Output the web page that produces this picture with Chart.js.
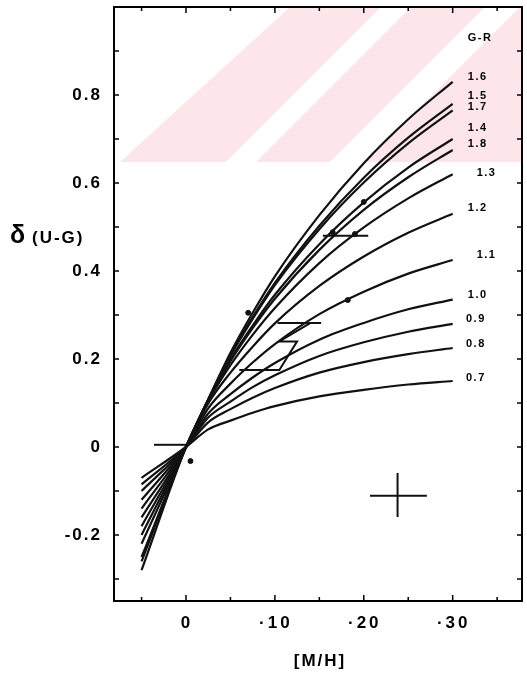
<!DOCTYPE html>
<html>
<head>
<meta charset="utf-8">
<script src="https://cdn.jsdelivr.net/npm/chart.js@4.4.0/dist/chart.umd.min.js"></script>
<style>
html, body { margin: 0; padding: 0; background: #fff; }
#wrap { width: 527px; height: 673px; }
</style>
</head>
<body>
<div id="wrap"><canvas id="grafico"></canvas></div>
<script>

// [M/H] values where each curve was read
const xs = [-0.05, 0, 0.025, 0.05, 0.075, 0.10, 0.15, 0.20, 0.25, 0.30];

// delta(U-G) per curve, labelled by colour
const curva16 = [-0.28, 0, 0.108, 0.214, 0.305, 0.388, 0.527, 0.645, 0.745, 0.83];
const curva15 = [-0.26, 0, 0.108, 0.209, 0.295, 0.373, 0.503, 0.612, 0.703, 0.78];
const curva17 = [-0.25, 0, 0.108, 0.207, 0.291, 0.368, 0.495, 0.601, 0.690, 0.765];
const curva14 = [-0.22, 0, 0.107, 0.199, 0.276, 0.346, 0.461, 0.556, 0.635, 0.70];
const curva18 = [-0.20, 0, 0.106, 0.195, 0.270, 0.337, 0.448, 0.539, 0.613, 0.675];
const curva13 = [-0.18, 0, 0.104, 0.186, 0.255, 0.316, 0.418, 0.499, 0.565, 0.62];
const curva12 = [-0.16, 0, 0.099, 0.169, 0.228, 0.281, 0.366, 0.433, 0.487, 0.53];
const curva11 = [-0.14, 0, 0.088, 0.144, 0.192, 0.234, 0.302, 0.353, 0.394, 0.425];
const curva10 = [-0.12, 0, 0.076, 0.120, 0.158, 0.191, 0.244, 0.282, 0.313, 0.335];
const curva09 = [-0.10, 0, 0.067, 0.103, 0.136, 0.163, 0.207, 0.238, 0.262, 0.28];
const curva08 = [-0.085, 0, 0.056, 0.086, 0.112, 0.134, 0.169, 0.193, 0.211, 0.225];
const curva07 = [-0.07, 0, 0.040, 0.060, 0.078, 0.093, 0.115, 0.130, 0.142, 0.15];

const curvas = [curva16, curva15, curva17, curva14, curva18, curva13,
                curva12, curva11, curva10, curva09, curva08, curva07];

// labels at the right end of the curves
const etiquetas = ["1.6", "1.5", "1.7", "1.4", "1.8", "1.3", "1.2", "1.1", "1.0", "0.9", "0.8", "0.7"];
const etiquetasY = [0.841, 0.798, 0.773, 0.725, 0.689, 0.623, 0.543, 0.436, 0.345, 0.291, 0.234, 0.157];
const etiquetasX = [0.317, 0.317, 0.317, 0.317, 0.317, 0.327, 0.317, 0.327, 0.317, 0.315, 0.315, 0.315];
const cabecera = "G-R";

// marked points
const puntosX = [0.07, 0.182, 0.20, 0.005, 0.165, 0.19];
const puntosY = [0.305, 0.334, 0.557, -0.032, 0.488, 0.484];

// bars drawn across the curves, and the error cross
const barraOrigenX = [-0.036, 0.0];
const barraOrigenY = [0.005, 0.005];
const barraAltaX = [0.154, 0.205];
const barraAltaY = [0.48, 0.48];
const corcheteX = [0.152, 0.103, 0.14, 0.105, 0.125, 0.105, 0.06];
const corcheteY = [0.282, 0.282, 0.282, 0.240, 0.240, 0.175, 0.175];
const errorHX = [0.207, 0.271];
const errorHY = [-0.111, -0.111];
const errorVX = [0.238, 0.238];
const errorVY = [-0.059, -0.159];

// axes
const xEtiquetaVal = [0, 0.1, 0.2, 0.3];
const xEtiquetaTxt = ["0", "\u00b710", "\u00b720", "\u00b730"];
const xMenores = [-0.05, 0.05, 0.15, 0.25, 0.35];
const yEtiquetaVal = [0.8, 0.6, 0.4, 0.2, 0, -0.2];
const yEtiquetaTxt = ["0.8", "0.6", "0.4", "0.2", "0", "-0.2"];
const yMenores = [0.9, 0.7, 0.5, 0.3, 0.1, -0.1, -0.3];

function pares(vx, vy) {
    return vx.map((v, i) => ({ x: v, y: vy[i] }));
}

const datasets = curvas.map(c => ({
    data: pares(xs, c),
    borderColor: "#111",
    borderWidth: 2.2,
    pointRadius: 0,
    cubicInterpolationMode: "monotone",
    fill: false
}));

[[barraOrigenX, barraOrigenY], [barraAltaX, barraAltaY], [corcheteX, corcheteY],
 [errorHX, errorHY], [errorVX, errorVY]].forEach(p => {
    datasets.push({
        data: pares(p[0], p[1]),
        borderColor: "#111",
        borderWidth: 2,
        pointRadius: 0,
        tension: 0,
        fill: false
    });
});

datasets.push({
    type: "scatter",
    data: pares(puntosX, puntosY),
    backgroundColor: "#111",
    borderColor: "#111",
    pointRadius: 2.5,
    showLine: false
});

const FUENTE = "Liberation Sans, Arial, sans-serif";

const decorado = {
    id: "decorado",
    beforeDatasetsDraw(chart) {
        const ctx = chart.ctx;
        ctx.save();
        ctx.fillStyle = "#fce6ea";
        // faint pink stripes of the scanned page
        const bandas = [
            [[120, 162], [226, 162], [381, 7], [290, 7]],
            [[256, 162], [330, 162], [485, 7], [411, 7]],
            [[365, 162], [522, 162], [522, 7], [520, 7]]
        ];
        bandas.forEach(b => {
            ctx.beginPath();
            ctx.moveTo(b[0][0], b[0][1]);
            b.slice(1).forEach(p => ctx.lineTo(p[0], p[1]));
            ctx.closePath();
            ctx.fill();
        });
        ctx.restore();
    },
    afterDraw(chart) {
        const ctx = chart.ctx;
        const a = chart.chartArea;
        const sx = chart.scales.x;
        const sy = chart.scales.y;
        ctx.save();
        ctx.strokeStyle = "#000";
        ctx.lineWidth = 2;
        ctx.strokeRect(a.left, a.top, a.right - a.left, a.bottom - a.top);

        function raya(x1, y1, x2, y2) {
            ctx.beginPath();
            ctx.moveTo(x1, y1);
            ctx.lineTo(x2, y2);
            ctx.stroke();
        }
        ctx.lineWidth = 1.5;
        xEtiquetaVal.forEach(v => {
            const p = sx.getPixelForValue(v);
            raya(p, a.bottom, p, a.bottom - 6);
            raya(p, a.top, p, a.top + 6);
        });
        xMenores.forEach(v => {
            const p = sx.getPixelForValue(v);
            raya(p, a.bottom, p, a.bottom - 4);
            raya(p, a.top, p, a.top + 4);
        });
        yEtiquetaVal.concat(yMenores).forEach(v => {
            const p = sy.getPixelForValue(v);
            raya(a.left, p, a.left + 5, p);
            raya(a.right, p, a.right - 5, p);
        });

        ctx.fillStyle = "#000";

        // tick labels
        ctx.font = "bold 17px " + FUENTE;
        ctx.letterSpacing = "2px";
        ctx.textAlign = "right";
        ctx.textBaseline = "middle";
        yEtiquetaVal.forEach((v, i) => {
            ctx.fillText(yEtiquetaTxt[i], a.left - 12, sy.getPixelForValue(v));
        });
        ctx.letterSpacing = "3px";
        ctx.textAlign = "center";
        xEtiquetaVal.forEach((v, i) => {
            ctx.fillText(xEtiquetaTxt[i], sx.getPixelForValue(v) + 1, a.bottom + 22);
        });

        ctx.font = "bold 11px " + FUENTE;
        ctx.letterSpacing = "1.5px";
        ctx.textAlign = "left";
        etiquetas.forEach((t, i) => {
            ctx.fillText(t, sx.getPixelForValue(etiquetasX[i]), sy.getPixelForValue(etiquetasY[i]));
        });
        ctx.fillText(cabecera, sx.getPixelForValue(0.317), sy.getPixelForValue(0.93));

        // axis titles
        ctx.letterSpacing = "0px";
        ctx.font = "bold 25px " + FUENTE;
        ctx.fillText("\u03b4", 10, 236);
        ctx.font = "bold 17px " + FUENTE;
        ctx.letterSpacing = "2px";
        ctx.fillText("(U-G)", 32, 238);
        ctx.textAlign = "center";
        ctx.fillText("[M/H]", (a.left + a.right) / 2 + 2, 661);
        ctx.restore();
    }
};

new Chart(document.getElementById("grafico"), {
    type: "line",
    data: { datasets: datasets },
    options: {
        responsive: true,
        maintainAspectRatio: false,
        animation: false,
        layout: { padding: { left: 0, right: 5, top: 7, bottom: 0 } },
        plugins: { legend: { display: false }, tooltip: { enabled: false } },
        scales: {
            x: {
                type: "linear",
                min: -0.081,
                max: 0.378,
                grid: { display: false },
                border: { display: false },
                ticks: { display: false },
                afterFit: s => { s.height = 72; }
            },
            y: {
                type: "linear",
                min: -0.35,
                max: 1.0,
                grid: { display: false },
                border: { display: false },
                ticks: { display: false },
                afterFit: s => { s.width = 114; }
            }
        }
    },
    plugins: [decorado]
});

</script>
</body>
</html>
